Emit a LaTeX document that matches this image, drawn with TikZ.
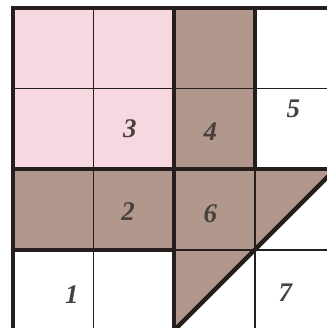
\documentclass[tikz,border=0pt]{standalone}
\usepackage{fontspec}
\setmainfont{Liberation Serif}
\definecolor{pinkcell}{RGB}{247,215,224}
\definecolor{browncell}{RGB}{178,151,141}
\definecolor{gridline}{RGB}{38,30,28}
\tikzset{
  thinline/.style={draw=gridline, line width=0.5pt},
  midline/.style={draw=gridline, line width=0.8pt},
  thickline/.style={draw=gridline, line width=1.5pt},
  num/.style={font=\bfseries\itshape\fontsize{9.5}{10}\selectfont, text=gridline!85!white}
}
\begin{document}
\begin{tikzpicture}
\useasboundingbox (-0.16,0.03) rectangle (3.89,4.1);
% cells
\fill[pinkcell] (0,2) rectangle (2,4);
\fill[browncell] (2,2) rectangle (3,4);
\fill[browncell] (0,1) rectangle (2,2);
\fill[browncell] (2,2) -- (4,2) -- (2,0) -- cycle;
% thin grid
\draw[thinline] (1,0) -- (1,4);
\draw[thinline] (0,3) -- (4,3);
\draw[midline] (3,0) -- (3,2);
\draw[midline] (2,1) -- (4,1);
% thick grid
\draw[thickline] (0,0) -- (0,4) -- (4,4) -- (4,0) -- cycle;
\draw[thickline] (2,0) -- (2,4);
\draw[thickline] (3,2) -- (3,4);
\draw[thickline] (0,2) -- (4,2);
\draw[thickline] (0,1) -- (2,1);
\draw[thickline] (2,0) -- (4,2);
% numbers
\node[num] (n1) at (0.73,0.45) {1};
\node[num] (n2) at (1.43,1.47) {2};
\node[num] (n3) at (1.45,2.5) {3};
\node[num] (n4) at (2.45,2.47) {4};
\node[num] (n5) at (3.48,2.75) {5};
\node[num] (n6) at (2.45,1.45) {6};
\node[num] (n7) at (3.38,0.47) {7};
\end{tikzpicture}
\end{document}
